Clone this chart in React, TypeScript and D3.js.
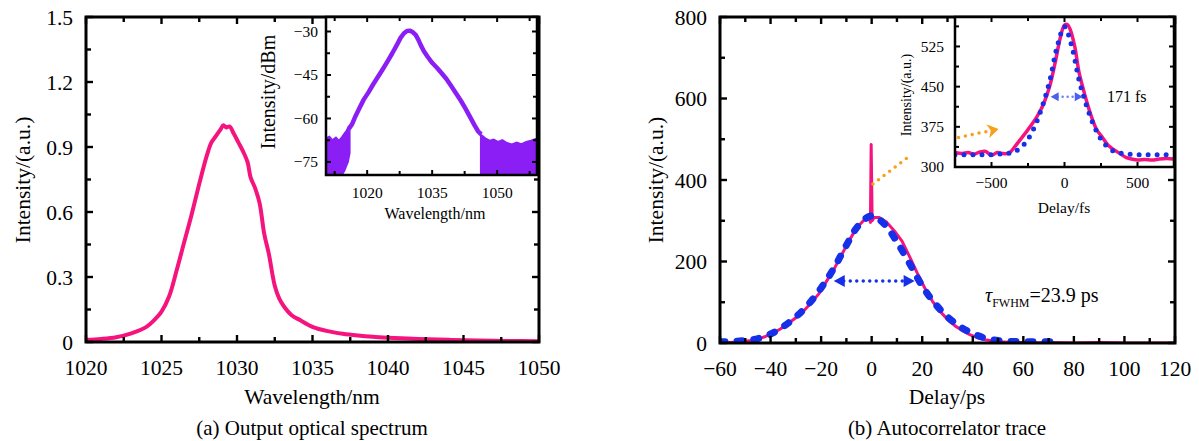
import React from 'react';
import * as d3 from 'd3';

// ---------- (a) output spectrum, linear ----------
const specWavelength = [1020, 1021, 1022, 1023, 1024, 1024.5, 1025, 1025.5, 1026, 1026.5, 1027, 1027.5, 1028, 1028.3, 1028.6, 1028.9, 1029.1, 1029.3, 1029.5, 1029.8, 1030.1, 1030.4, 1030.7, 1030.9, 1031.2, 1031.5, 1031.8, 1032.1, 1032.5, 1032.8, 1033.1, 1033.6, 1034.2, 1035, 1036, 1037, 1038, 1039, 1040, 1042, 1044, 1046, 1048, 1050];
const specIntensity = [0.01, 0.014, 0.022, 0.04, 0.07, 0.1, 0.14, 0.21, 0.33, 0.46, 0.59, 0.73, 0.86, 0.92, 0.95, 0.98, 1.0, 0.99, 0.995, 0.96, 0.92, 0.88, 0.83, 0.76, 0.71, 0.64, 0.5, 0.41, 0.26, 0.2, 0.165, 0.125, 0.1, 0.07, 0.05, 0.038, 0.03, 0.024, 0.02, 0.014, 0.01, 0.007, 0.005, 0.004];

// ---------- (a) inset, log scale ----------
const insetWavelength = [1015.8, 1016.5, 1017.3, 1018.2, 1019.2, 1020.3, 1021.4, 1022.5, 1023.6, 1024.7, 1025.8, 1026.8, 1027.7, 1028.5, 1029.2, 1029.8, 1030.5, 1031.2, 1031.8, 1032.4, 1033.1, 1034, 1035, 1036.1, 1037.2, 1038.3, 1039.4, 1040.5, 1041.6, 1042.7, 1043.8, 1044.8, 1045.6, 1046.3];
const insetDbm = [-63.5, -62, -59.2, -56.5, -53.5, -51, -48.2, -45.6, -43, -40.3, -37.5, -34.8, -32.2, -30.6, -29.8, -29.7, -30.2, -31.2, -32.8, -34.8, -36.8, -38.8, -40.8, -42.5, -44.4, -46.4, -48.8, -51.3, -53.8, -56.6, -59.6, -62.4, -64.4, -65.5];
const noiseLeftWavelength = [1010.5, 1011.3, 1012, 1012.8, 1013.5, 1014.2, 1014.8, 1015.2, 1015.6, 1016];
const noiseLeftTop = [-66.8, -66.2, -67.4, -66.5, -67.6, -66.3, -65.0, -64.2, -63.0, -62.5];
const noiseLeftBottom = [-79.5, -79.5, -79.5, -79.5, -79.5, -79.5, -78, -76.5, -75, -72];
const noiseRightWavelength = [1046.2, 1046.8, 1047.5, 1048.3, 1049.2, 1050.2, 1051.2, 1052.3, 1053.4, 1054.5, 1055.6, 1056.7, 1057.8, 1059.2];
const noiseRightTop = [-65.5, -66.2, -67.0, -67.6, -67.2, -68.0, -67.4, -68.4, -68.9, -68.2, -68.8, -68.0, -67.6, -66.8];

// ---------- (b) autocorrelation trace ----------
const acDelay = [-60, -57, -54, -51, -48, -45, -42, -39, -36, -33, -30, -27, -24, -21, -18, -15, -12, -9, -6, -3, -1.2, -0.5, -0.2, 0.2, 1, 3, 6, 9, 12, 15, 18, 21, 24, 27, 30, 33, 36, 39, 42, 45, 48, 51, 54, 57, 60, 65, 70, 80, 90, 100, 110, 120];
const acTrace = [2, 1, 2, 3, 6, 10, 16, 24, 35, 48, 62, 78, 98, 120, 150, 180, 215, 250, 282, 302, 309, 296, 487, 300, 308, 308, 296, 275, 250, 212, 172, 135, 103, 78, 58, 42, 30, 20, 13, 8, 5, 3, 2, 1, 1, 0, 1, 0, 1, 0, 0, 0];
const fitDelay = [-60, -55, -50, -45, -40, -35, -30, -25, -20, -15, -10, -5, 0, 5, 10, 15, 20, 25, 30, 35, 40, 45, 50, 55, 60, 65, 70, 75];
const fitTrace = [3, 4, 6, 11, 22, 40, 64, 95, 135, 183, 240, 290, 312, 292, 248, 195, 140, 97, 64, 40, 23, 12, 6, 4, 3, 3, 3, 3];
const fwhmPs = [-15, 17];
const fwhmLevel = 152;

// ---------- (b) inset ----------
const insetDelay = [-750, -700, -660, -620, -580, -540, -500, -460, -420, -380, -340, -300, -260, -220, -180, -140, -100, -60, -30, 0, 20, 40, 70, 100, 130, 160, 190, 220, 260, 300, 340, 380, 420, 460, 500, 550, 600, 650, 700, 750];
const insetTrace = [327, 325, 327, 324, 328, 329, 322, 327, 325, 326, 338, 352, 366, 381, 398, 420, 452, 500, 540, 565, 566, 556, 525, 476, 444, 415, 390, 370, 355, 340, 332, 325, 318, 315, 313, 314, 313, 315, 316, 315];
const insetFitDelay = [-750, -700, -650, -600, -550, -500, -450, -400, -350, -300, -250, -200, -150, -100, -50, 0, 50, 100, 150, 200, 250, 300, 350, 400, 450, 500, 550, 600, 650, 700, 750];
const insetFitTrace = [323, 323, 323, 323, 323, 323, 324, 325, 328, 336, 352, 378, 415, 462, 525, 562, 525, 462, 415, 378, 352, 336, 328, 325, 324, 323, 323, 323, 323, 323, 323];
const insetFwhmFs = [-95, 125];
const insetFwhmLevel = 431;

// orange pointer: main-plot part and inset part (data coordinates)
const pointerMainDelay = [0.5, 14];
const pointerMainValue = [390, 454];
const pointerInsetDelay = [-726, -505];
const pointerInsetValue = [355, 368];

// ticks
const aXTicks = [1020, 1025, 1030, 1035, 1040, 1045, 1050];
const aYTicks = [0, 0.3, 0.6, 0.9, 1.2, 1.5];
const aYLabels = ['0', '0.3', '0.6', '0.9', '1.2', '1.5'];
const aiXTicks = [1020, 1035, 1050];
const aiYTicks = [-30, -45, -60, -75];
const bXTicks = [-60, -40, -20, 0, 20, 40, 60, 80, 100, 120];
const bYTicks = [0, 200, 400, 600, 800];
const biXTicks = [-500, 0, 500];
const biYTicks = [300, 375, 450, 525];

const FONT = "'Liberation Serif','Times New Roman',serif";
const PINK = '#f5147d';
const BLUE = '#1530e8';
const PURPLE = '#8a1ef5';
const ORANGE = '#f7a01c';

const fmt = (v: number) => (v < 0 ? '\u2212' + Math.abs(v) : String(v));

function Frame(p: any) {
  const { xs, ys, xMajor, xMinor, yMajor, yMinor, xLabels, yLabels, majorLen, minorLen, sw, fs, xLabelY, yLabelGap } = p;
  const [x0, x1] = xs.range();
  const [y0, y1] = ys.range();
  const ticks: any[] = [];
  const add = (vals: number[], len: number, key: string) => {
    vals.forEach((v, i) => {
      const X = xs(v);
      ticks.push(<line key={key + 'b' + i} x1={X} x2={X} y1={y0} y2={y0 - len} />);
      ticks.push(<line key={key + 't' + i} x1={X} x2={X} y1={y1} y2={y1 + len} />);
    });
  };
  const addY = (vals: number[], len: number, key: string) => {
    vals.forEach((v, i) => {
      const Y = ys(v);
      ticks.push(<line key={key + 'l' + i} x1={x0} x2={x0 + len} y1={Y} y2={Y} />);
      ticks.push(<line key={key + 'r' + i} x1={x1} x2={x1 - len} y1={Y} y2={Y} />);
    });
  };
  add(xMajor, majorLen, 'xM');
  add(xMinor, minorLen, 'xm');
  addY(yMajor, majorLen, 'yM');
  addY(yMinor, minorLen, 'ym');
  return (
    <g>
      <g stroke="#000" strokeWidth={sw * 0.8}>{ticks}</g>
      <rect x={x0} y={y1} width={x1 - x0} height={y0 - y1} fill="none" stroke="#000" strokeWidth={sw} />
      <g style={{ fontFamily: FONT }} fontSize={fs} fill="#000">
        {xMajor.map((v: number, i: number) => (
          <text key={'xl' + i} x={xs(v)} y={y0 + xLabelY} textAnchor="middle">{xLabels[i]}</text>
        ))}
        {yMajor.map((v: number, i: number) => (
          <text key={'yl' + i} x={x0 - yLabelGap} y={ys(v)} dy="0.35em" textAnchor="end">{yLabels[i]}</text>
        ))}
      </g>
    </g>
  );
}

function minorBetween(major: number[], step: number, lo: number, hi: number) {
  return d3.range(Math.ceil(lo / step) * step, hi + 1e-9, step).filter((v) => !major.some((m) => Math.abs(m - v) < 1e-9));
}

function arrowHead(tipX: number, tipY: number, dir: number, len: number, half: number) {
  return `M${tipX},${tipY}L${tipX - dir * len},${tipY - half}L${tipX - dir * len},${tipY + half}Z`;
}

export default function App() {
  const ax = d3.scaleLinear().domain([1020, 1050]).range([86, 539]);
  const ay = d3.scaleLinear().domain([0, 1.5]).range([342, 17]);
  const aix = d3.scaleLinear().domain([1010.5, 1059.2]).range([326, 537]);
  const aiy = d3.scaleLinear().domain([-79.5, -25]).range([175, 17]);
  const bx = d3.scaleLinear().domain([-60, 120]).range([720, 1175]);
  const by = d3.scaleLinear().domain([0, 800]).range([343, 17]);
  const bix = d3.scaleLinear().domain([-750, 750]).range([955, 1174]);
  const biy = d3.scaleLinear().domain([300, 580]).range([167, 17]);

  const specLine = d3.line<number>().x((_, i) => ax(specWavelength[i])).y((d) => ay(d)).curve(d3.curveCatmullRom)(specIntensity) || '';
  const insetLine = d3.line<number>().x((_, i) => aix(insetWavelength[i])).y((d) => aiy(d))(insetDbm) || '';
  const noiseL = d3.area<number>().x((_, i) => aix(noiseLeftWavelength[i])).y0((_, i) => aiy(noiseLeftBottom[i])).y1((d) => aiy(d))(noiseLeftTop) || '';
  const noiseR = d3.area<number>().x((_, i) => aix(noiseRightWavelength[i])).y0(() => aiy(-79.5)).y1((d) => aiy(d))(noiseRightTop) || '';

  const acLine = d3.line<number>().x((_, i) => bx(acDelay[i])).y((d) => by(d))(acTrace) || '';
  const fitLine = d3.line<number>().x((_, i) => bx(fitDelay[i])).y((d) => by(d)).curve(d3.curveCatmullRom)(fitTrace) || '';
  const biLine = d3.line<number>().x((_, i) => bix(insetDelay[i])).y((d) => biy(d)).curve(d3.curveCatmullRom)(insetTrace) || '';
  const biFit = d3.line<number>().x((_, i) => bix(insetFitDelay[i])).y((d) => biy(d)).curve(d3.curveCatmullRom)(insetFitTrace) || '';

  const fwL = bx(fwhmPs[0]);
  const fwR = bx(fwhmPs[1]);
  const fwY = by(fwhmLevel);
  const ifwL = bix(insetFwhmFs[0]);
  const ifwR = bix(insetFwhmFs[1]);
  const ifwY = biy(insetFwhmLevel);

  const pm = pointerMainDelay.map((d, i) => [bx(d), by(pointerMainValue[i])]);
  const pi = pointerInsetDelay.map((d, i) => [bix(d), biy(pointerInsetValue[i])]);
  const ang = Math.atan2(pi[1][1] - pi[0][1], pi[1][0] - pi[0][0]);
  const tip = [pi[1][0] + 8 * Math.cos(ang), pi[1][1] + 8 * Math.sin(ang)];
  const orangeHead = (() => {
    const L = 11, Hh = 7;
    const bxp = tip[0] - L * Math.cos(ang), byp = tip[1] - L * Math.sin(ang);
    const nx = -Math.sin(ang), ny = Math.cos(ang);
    return `M${tip[0]},${tip[1]}L${bxp + nx * Hh},${byp + ny * Hh}L${bxp + 3 * Math.cos(ang)},${byp + 3 * Math.sin(ang)}L${bxp - nx * Hh},${byp - ny * Hh}Z`;
  })();

  const MF = 21.5;

  return (
    <svg width={1199} height={441} style={{ position: 'absolute', left: 0, top: 0, background: '#fff', fontFamily: FONT }}>
      <defs>
        <clipPath id="ca"><rect x={86} y={17} width={453} height={325} /></clipPath>
        <clipPath id="cai"><rect x={326} y={17} width={211} height={158} /></clipPath>
        <clipPath id="cb"><rect x={720} y={17} width={455} height={326} /></clipPath>
        <clipPath id="cbi"><rect x={955} y={17} width={219} height={150} /></clipPath>
      </defs>

      {/* ===== (a) ===== */}
      <path d={specLine} fill="none" stroke={PINK} strokeWidth={4} strokeLinejoin="round" clipPath="url(#ca)" />
      <Frame xs={ax} ys={ay} xMajor={aXTicks} xMinor={minorBetween(aXTicks, 2.5, 1020, 1050)} yMajor={aYTicks} yMinor={minorBetween(aYTicks, 0.15, 0, 1.5)}
        xLabels={aXTicks.map(fmt)} yLabels={aYLabels} majorLen={7} minorLen={5} sw={3} fs={MF} xLabelY={33} yLabelGap={13} />
      <text x={22} y={180} transform="rotate(-90 22 180)" textAnchor="middle" dy="0.35em" fontSize={MF}>Intensity/(a.u.)</text>
      <text x={312} y={404} textAnchor="middle" fontSize={MF}>Wavelength/nm</text>
      <text x={312} y={435} textAnchor="middle" fontSize={21}>(a) Output optical spectrum</text>

      {/* (a) inset */}
      <rect x={326} y={17} width={211} height={158} fill="#fff" />
      <g clipPath="url(#cai)">
        <path d={noiseL} fill={PURPLE} stroke={PURPLE} strokeWidth={1.5} />
        <path d={noiseR} fill={PURPLE} stroke={PURPLE} strokeWidth={1.5} />
        <path d={insetLine} fill="none" stroke={PURPLE} strokeWidth={4.5} strokeLinejoin="round" />
      </g>
      <Frame xs={aix} ys={aiy} xMajor={aiXTicks} xMinor={[1012.5, 1027.5, 1042.5, 1057.5]} yMajor={aiYTicks} yMinor={[-37.5, -52.5, -67.5]}
        xLabels={aiXTicks.map(fmt)} yLabels={aiYTicks.map(fmt)} majorLen={5} minorLen={4} sw={2.5} fs={15.5} xLabelY={23} yLabelGap={8} />
      <text x={268} y={92} transform="rotate(-90 268 92)" textAnchor="middle" dy="0.35em" fontSize={20}>Intensity/dBm</text>
      <text x={435} y={219} textAnchor="middle" fontSize={16}>Wavelength/nm</text>

      {/* ===== (b) ===== */}
      <g clipPath="url(#cb)">
        <path d={acLine} fill="none" stroke={PINK} strokeWidth={3} strokeLinejoin="round" />
        <path d={fitLine} fill="none" stroke={BLUE} strokeWidth={7} strokeDasharray="5 12" strokeLinecap="round" />
      </g>
      <line x1={fwL + 10} x2={fwR - 10} y1={fwY} y2={fwY} stroke={BLUE} strokeWidth={3.5} strokeDasharray="0 6.5" strokeLinecap="round" />
      <path d={arrowHead(fwL, fwY, -1, 11, 6)} fill={BLUE} />
      <path d={arrowHead(fwR, fwY, 1, 11, 6)} fill={BLUE} />
      <line x1={pm[0][0]} y1={pm[0][1]} x2={pm[1][0]} y2={pm[1][1]} stroke={ORANGE} strokeWidth={3.5} strokeDasharray="0 7" strokeLinecap="round" />

      <Frame xs={bx} ys={by} xMajor={bXTicks} xMinor={minorBetween(bXTicks, 10, -60, 120)} yMajor={bYTicks} yMinor={minorBetween(bYTicks, 100, 0, 800)}
        xLabels={bXTicks.map(fmt)} yLabels={bYTicks.map(fmt)} majorLen={7} minorLen={5} sw={3} fs={MF} xLabelY={33} yLabelGap={13} />
      <text x={655} y={180} transform="rotate(-90 655 180)" textAnchor="middle" dy="0.35em" fontSize={MF}>Intensity/(a.u.)</text>
      <text x={947} y={404} textAnchor="middle" fontSize={MF}>Delay/ps</text>
      <text x={947} y={435} textAnchor="middle" fontSize={21}>(b) Autocorrelator trace</text>
      <text x={985} y={302} fontSize={20}>
        <tspan fontStyle="italic">τ</tspan>
        <tspan fontSize={12} dy={5}>FWHM</tspan>
        <tspan dy={-5}>=23.9 ps</tspan>
      </text>

      {/* (b) inset */}
      <rect x={955} y={17} width={219} height={150} fill="#fff" />
      <g clipPath="url(#cbi)">
        <path d={biLine} fill="none" stroke={PINK} strokeWidth={3.5} strokeLinejoin="round" />
        <path d={biFit} fill="none" stroke={BLUE} strokeWidth={5} strokeDasharray="0 9" strokeLinecap="round" />
        <line x1={ifwL + 7} x2={ifwR - 7} y1={ifwY} y2={ifwY} stroke="#6a80f0" strokeWidth={2.5} strokeDasharray="0 5" strokeLinecap="round" />
        <path d={arrowHead(ifwL, ifwY, -1, 8, 4.5)} fill="#4a60ee" />
        <path d={arrowHead(ifwR, ifwY, 1, 8, 4.5)} fill="#4a60ee" />
        <line x1={pi[0][0]} y1={pi[0][1]} x2={pi[1][0]} y2={pi[1][1]} stroke={ORANGE} strokeWidth={3.5} strokeDasharray="0 7" strokeLinecap="round" />
        <path d={orangeHead} fill={ORANGE} />
      </g>
      <Frame xs={bix} ys={biy} xMajor={biXTicks} xMinor={[-250, 250]} yMajor={biYTicks} yMinor={[337.5, 412.5, 487.5, 562.5]}
        xLabels={biXTicks.map(fmt)} yLabels={biYTicks.map(fmt)} majorLen={5} minorLen={4} sw={2.5} fs={15.5} xLabelY={21} yLabelGap={11} />
      <text x={1107} y={ifwY} dy="0.35em" fontSize={16}>171 fs</text>
      <text x={906} y={95} transform="rotate(-90 906 95)" textAnchor="middle" dy="0.35em" fontSize={14}>Intensity/(a.u.)</text>
      <text x={1064} y={213} textAnchor="middle" fontSize={15.5}>Delay/fs</text>
    </svg>
  );
}
